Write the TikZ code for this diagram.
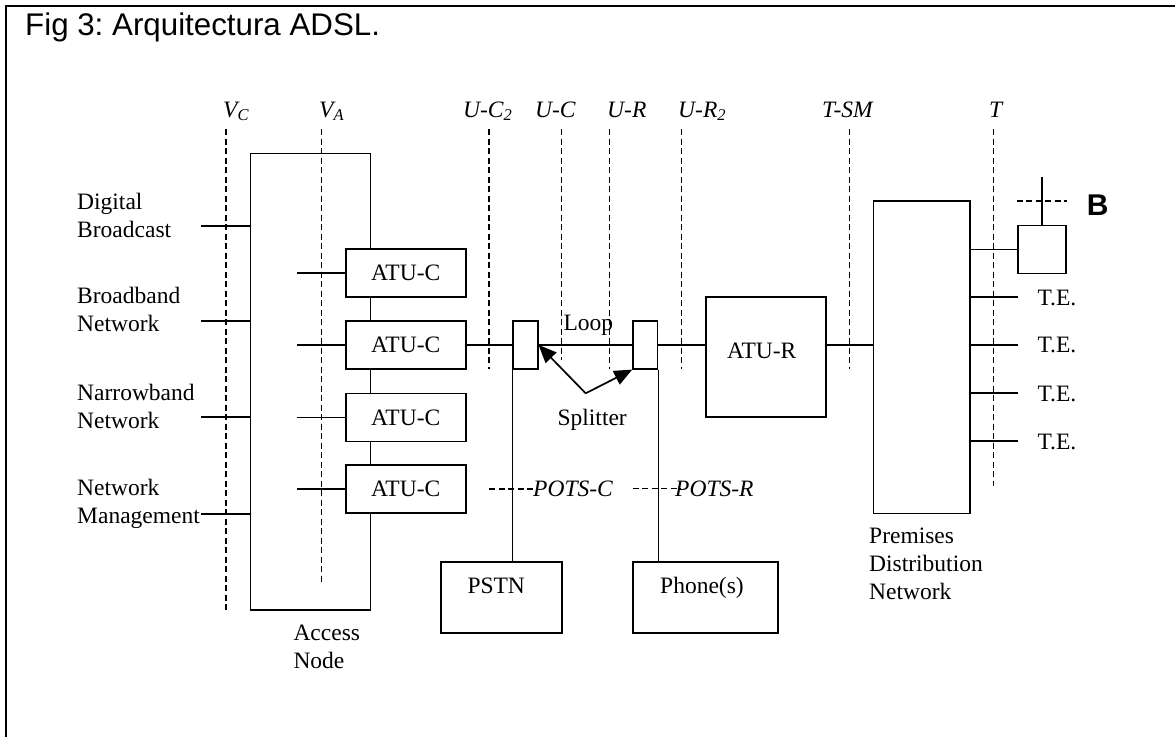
\documentclass[tikz,border=0pt]{standalone}
\usepackage{fontspec}
\setmainfont{Liberation Serif}
\newfontfamily\arialf{Liberation Sans}
\usetikzlibrary{arrows.meta}
\newcommand\tms{\fontsize{23.5}{28}\selectfont}

\begin{document}
\frenchspacing
\begin{tikzpicture}[x=1pt,y=-1pt,
  wire/.style={line width=1.7pt},
  refline/.style={line width=1.3pt, dash pattern=on 6pt off 3.5pt},
  box/.style={draw, line width=1.7pt, fill=white, inner sep=0pt, font=\tms},
  txt/.style={inner sep=0pt, anchor=base west, font=\tms, align=left},
  itxt/.style={inner sep=0pt, anchor=base west, font=\tms\itshape},
  arr/.style={wire, -{Triangle[length=18pt,width=15pt]}},
]
\useasboundingbox (0,0) rectangle (1175,737);
\draw[line width=2.2pt] (6,737) -- (6,6) -- (1175,6);

\node[inner sep=0pt, anchor=base west, font=\arialf\fontsize{31.3}{36}\selectfont] (title) at (25,35) {Fig 3: Arquitectura ADSL.};

% reference points
\node[itxt] (lvc) at (223,117) {V\textsubscript{C}};
\coordinate (vc1) at (226,129); \coordinate (vc2) at (226,610);
\draw[refline] (vc1) -- (vc2);
\node[itxt] (lva) at (319,117) {V\textsubscript{A}};
\coordinate (va1) at (321.5,129); \coordinate (va2) at (321.5,584);
\draw[refline] (va1) -- (va2);
\node[itxt] (luc2) at (463,117) {U-C\textsubscript{2}};
\coordinate (uc21) at (489,129); \coordinate (uc22) at (489,369);
\draw[refline] (uc21) -- (uc22);
\node[itxt] (luc) at (535,117) {U-C};
\coordinate (uc1) at (561.7,129); \coordinate (uc2) at (561.7,360);
\draw[refline] (uc1) -- (uc2);
\node[itxt] (lur) at (607,117) {U-R};
\coordinate (ur1) at (609.7,129); \coordinate (ur2) at (609.7,369);
\draw[refline] (ur1) -- (ur2);
\node[itxt] (lur2) at (678,117) {U-R\textsubscript{2}};
\coordinate (ur21) at (681.7,129); \coordinate (ur22) at (681.7,369);
\draw[refline] (ur21) -- (ur22);
\node[itxt] (ltsm) at (822,117) {T-SM};
\coordinate (tsm1) at (849.3,129); \coordinate (tsm2) at (849.3,369);
\draw[refline] (tsm1) -- (tsm2);
\node[itxt] (lt) at (989,117) {T};
\coordinate (t1) at (993.3,129); \coordinate (t2) at (993.3,486);
\draw[refline] (t1) -- (t2);

% access node
\node[box, fill=none, anchor=north west, minimum width=120pt, minimum height=456.6pt] (an) at (249.7,152.7) {};
\node[txt] (anl) at (293.3,668.7) {Access\\Node};

% inputs
\node[txt] (l1) at (77,237.3) {Digital\\Broadcast};
\node[txt] (l2) at (77,331.7) {Broadband\\Network};
\node[txt] (l3) at (77,428.3) {Narrowband\\Network};
\node[txt] (l4) at (77,523.3) {Network\\Management};
\coordinate (i1) at (201,226); \draw[wire] (i1) -- (i1 -| an.west);
\coordinate (i2) at (201,321); \draw[wire] (i2) -- (i2 -| an.west);
\coordinate (i3) at (201,417); \draw[wire] (i3) -- (i3 -| an.west);
\coordinate (i4) at (201,514); \draw[wire] (i4) -- (i4 -| an.west);

% ATU-C
\node[box, minimum width=120pt, minimum height=48pt] (atu1) at (405.7,273.3) {ATU-C};
\node[box, minimum width=120pt, minimum height=48pt] (atu2) at (405.7,345) {ATU-C};
\node[box, minimum width=120pt, minimum height=48pt] (atu3) at (405.7,417.5) {ATU-C};
\node[box, minimum width=120pt, minimum height=48pt] (atu4) at (405.7,489.3) {ATU-C};
\coordinate (s1) at (296.7,273.3); \draw[wire] (s1) -- (atu1.west);
\coordinate (s2) at (296.7,345); \draw[wire] (s2) -- (atu2.west);
\coordinate (s3) at (296.7,417.5); \draw[wire] (s3) -- (atu3.west);
\coordinate (s4) at (296.7,489.3); \draw[wire] (s4) -- (atu4.west);

% splitters
\node[box, minimum width=24.4pt, minimum height=47.7pt] (sl) at (525.5,344.9) {};
\node[box, minimum width=24.4pt, minimum height=47.7pt] (sr) at (645.3,344.9) {};
\node[txt] (loop) at (563.3,330) {Loop};
\node[txt] (spl) at (557.4,425.7) {Splitter};

% ATU-R, premises
\node[box, minimum width=120pt, minimum height=119.4pt] (atur) at (765.7,357) {};
\node[txt] (aturt) at (727,358.3) {ATU-R};
\node[box, minimum width=96.5pt, minimum height=312.3pt] (prem) at (921.8,357.2) {};
\node[txt] (preml) at (869,599.3) {Premises\\Distribution\\Network};

% PSTN, phones
\node[box, minimum width=121pt, minimum height=71.6pt] (pstn) at (501.5,597.5) {};
\node[txt] (pstnt) at (467.3,593.3) {PSTN};
\node[box, minimum width=145pt, minimum height=71.6pt] (phone) at (705.8,597.5) {};
\node[txt] (phonet) at (660,593.3) {Phone(s)};

% wires
\draw[wire] (atu2.east) -- (sl.west);
\draw[wire] (sl.east) -- (sr.west);
\draw[wire] (sr.east) -- (sr.east -| atur.west);
\draw[wire] (sr.east -| atur.east) -- (sr.east -| prem.west);
\draw[wire] (sl.south west) -- (sl.south west |- pstn.north);
\draw[wire] (sr.south east) -- (sr.south east |- phone.north);

\coordinate (sv) at (585.7,393.3);
\draw[arr] (sv) -- (sl.east);
\draw[arr] (sv) -- (sr.south west);

% POTS
\coordinate (pc1) at (489.3,489); \coordinate (pc2) at (537,489);
\draw[refline] (pc1) -- (pc2);
\node[itxt] (potsc) at (533,496.7) {POTS-C};
\coordinate (pr1) at (632.7,488.5); \coordinate (pr2) at (681,488.5);
\draw[refline] (pr1) -- (pr2);
\node[itxt] (potsr) at (675,496.7) {POTS-R};

% B and T.E.
\node[box, minimum size=48pt] (bb) at (1041.7,249.5) {};
\draw[wire] (prem.east |- bb.west) -- (bb.west);
\coordinate (bt) at (1041.7,176.7); \draw[wire] (bb.north) -- (bt);
\coordinate (bd1) at (1016.7,201); \coordinate (bd2) at (1066.7,201);
\draw[refline] (bd1) -- (bd2);
\node[inner sep=0pt, anchor=base west, font=\arialf\bfseries\fontsize{30}{36}\selectfont] (blab) at (1086.7,215) {B};

\coordinate (te1) at (1018.3,297.3); \draw[wire] (te1 -| prem.east) -- (te1);
\coordinate (te2) at (1018.3,345.3); \draw[wire] (te2 -| prem.east) -- (te2);
\coordinate (te3) at (1018.3,393.3); \draw[wire] (te3 -| prem.east) -- (te3);
\coordinate (te4) at (1018.3,441.3); \draw[wire] (te4 -| prem.east) -- (te4);
\node[txt] (tel1) at (1037.3,305) {T.E.};
\node[txt] (tel2) at (1037.3,352.7) {T.E.};
\node[txt] (tel3) at (1037.3,401) {T.E.};
\node[txt] (tel4) at (1037.3,449.3) {T.E.};
\end{tikzpicture}
\end{document}
